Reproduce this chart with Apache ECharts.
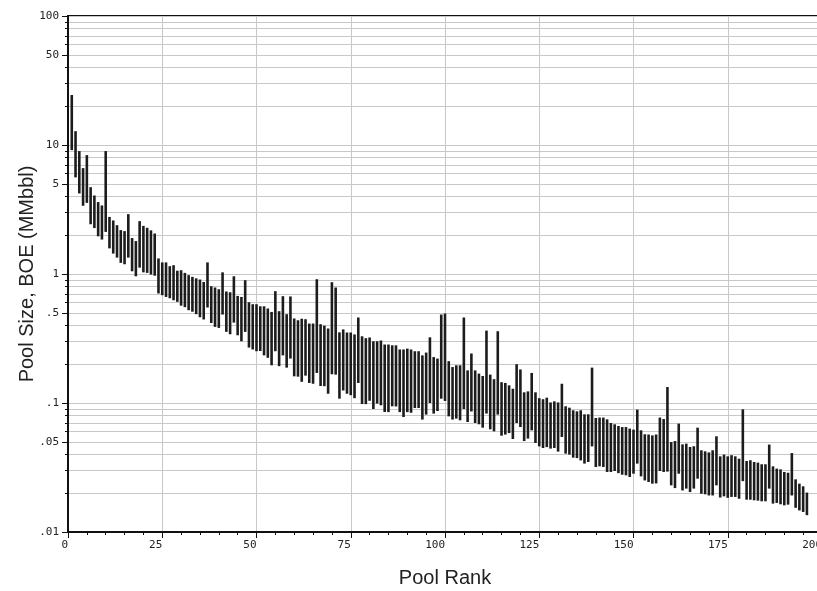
<!DOCTYPE html>
<html>
<head>
<meta charset="utf-8">
<script src="https://cdn.jsdelivr.net/npm/echarts@6/dist/echarts.min.js"></script>
<style>
html, body { margin: 0; padding: 0; background: #fff; }
#chart { width: 817px; height: 591px; }
</style>
</head>
<body>
<div id="chart"></div>
<script>
// pool size range (MMbbl) for each pool rank, rank = index + 1
const highs = [
	24.4, 12.8, 8.97, 6.62, 8.35, 4.71, 4.06, 3.61, 3.40, 8.97,
	2.77, 2.60, 2.39, 2.19, 2.15, 2.91, 1.90, 1.80, 2.57, 2.36,
	2.28, 2.18, 2.06, 1.32, 1.23, 1.23, 1.15, 1.17, 1.06, 1.07,
	1.02, 0.98, 0.95, 0.925, 0.906, 0.867, 1.23, 0.804, 0.786, 0.762,
	1.03, 0.732, 0.722, 0.96, 0.676, 0.664, 0.895, 0.604, 0.583, 0.583,
	0.562, 0.562, 0.540, 0.508, 0.736, 0.515, 0.673, 0.488, 0.67, 0.452,
	0.438, 0.45, 0.446, 0.413, 0.413, 0.911, 0.408, 0.398, 0.378, 0.864,
	0.786, 0.353, 0.372, 0.352, 0.352, 0.340, 0.460, 0.329, 0.318, 0.322,
	0.301, 0.301, 0.305, 0.284, 0.284, 0.280, 0.280, 0.260, 0.260, 0.264,
	0.260, 0.252, 0.252, 0.234, 0.246, 0.323, 0.227, 0.221, 0.485, 0.494,
	0.211, 0.190, 0.196, 0.196, 0.460, 0.179, 0.242, 0.179, 0.169, 0.162,
	0.364, 0.166, 0.153, 0.360, 0.145, 0.143, 0.137, 0.129, 0.200, 0.182,
	0.121, 0.123, 0.171, 0.121, 0.109, 0.107, 0.110, 0.101, 0.103, 0.101,
	0.141, 0.0943, 0.092, 0.0878, 0.0862, 0.0878, 0.0817, 0.0817, 0.188, 0.0765,
	0.0771, 0.0771, 0.0747, 0.070, 0.0684, 0.0663, 0.0651, 0.0651, 0.0633, 0.0622,
	0.0889, 0.0614, 0.0572, 0.057, 0.0561, 0.057, 0.0771, 0.0751, 0.133, 0.0498,
	0.0507, 0.0692, 0.0478, 0.0484, 0.0456, 0.0462, 0.0644, 0.043, 0.0422, 0.0414,
	0.043, 0.0552, 0.0386, 0.0398, 0.0386, 0.0394, 0.0386, 0.037, 0.0893, 0.0355,
	0.036, 0.0349, 0.0345, 0.0335, 0.0335, 0.0476, 0.0323, 0.031, 0.0306, 0.0292,
	0.0288, 0.0409, 0.0256, 0.0237, 0.0226, 0.0202
];
const lows = [
	9.13, 5.61, 4.21, 3.38, 3.56, 2.43, 2.27, 1.96, 1.85, 2.12,
	1.58, 1.44, 1.34, 1.22, 1.19, 1.34, 1.05, 0.96, 1.12, 1.03,
	1.02, 0.99, 0.97, 0.706, 0.685, 0.664, 0.649, 0.626, 0.608, 0.568,
	0.553, 0.524, 0.510, 0.488, 0.462, 0.444, 0.55, 0.417, 0.389, 0.382,
	0.485, 0.356, 0.341, 0.420, 0.335, 0.301, 0.356, 0.269, 0.260, 0.252,
	0.253, 0.234, 0.224, 0.196, 0.252, 0.193, 0.234, 0.188, 0.221, 0.161,
	0.160, 0.146, 0.163, 0.143, 0.141, 0.171, 0.1355, 0.135, 0.118, 0.167,
	0.166, 0.108, 0.125, 0.118, 0.115, 0.109, 0.143, 0.0982, 0.098, 0.104,
	0.0898, 0.099, 0.096, 0.0851, 0.085, 0.0943, 0.094, 0.085, 0.0779, 0.085,
	0.084, 0.0915, 0.0915, 0.0744, 0.0813, 0.100, 0.0828, 0.0867, 0.108, 0.1037,
	0.0788, 0.0744, 0.0757, 0.0734, 0.0898, 0.0712, 0.086, 0.070, 0.0684, 0.0644,
	0.0828, 0.0625, 0.0603, 0.0813, 0.0558, 0.0569, 0.0585, 0.0526, 0.070, 0.0651,
	0.0507, 0.053, 0.0614, 0.049, 0.0461, 0.0448, 0.0455, 0.0443, 0.0448, 0.042,
	0.0545, 0.0405, 0.0398, 0.0377, 0.0374, 0.0359, 0.0339, 0.0349, 0.0461, 0.0319,
	0.0323, 0.0319, 0.0292, 0.0292, 0.0297, 0.0286, 0.0278, 0.0275, 0.0267, 0.0283,
	0.0339, 0.027, 0.0251, 0.0244, 0.0237, 0.0238, 0.0297, 0.0292, 0.0294, 0.023,
	0.0219, 0.0283, 0.021, 0.0217, 0.0204, 0.0217, 0.0259, 0.0198, 0.0196, 0.0192,
	0.0192, 0.023, 0.0185, 0.0189, 0.0184, 0.0187, 0.0187, 0.0181, 0.0248, 0.0178,
	0.0178, 0.0176, 0.0175, 0.0173, 0.0173, 0.0217, 0.0166, 0.0168, 0.0164, 0.0161,
	0.0163, 0.0192, 0.0154, 0.0147, 0.0143, 0.0135
];

// y axis: labelled values and minor tick / grid values
const yLabelValues = [0.01, 0.05, 0.1, 0.5, 1, 5, 10, 50, 100];
const yTickValues = [
	0.01, 0.02, 0.03, 0.04, 0.05, 0.06, 0.07, 0.08, 0.09,
	0.1, 0.2, 0.3, 0.4, 0.5, 0.6, 0.7, 0.8, 0.9,
	1, 2, 3, 4, 5, 6, 7, 8, 9,
	10, 20, 30, 40, 50, 60, 70, 80, 90, 100
];

const data = lows.map( ( lo, i ) => [ i + 1, lo, highs[ i ] ] );

const labelFont = "DejaVu Sans Mono";
const gridColor = "#c8c8c8";
const inkColor = "#111";

const chart = echarts.init( document.getElementById( "chart" ) );

chart.setOption( {
	animation: false,
	grid: {
		left: 68,
		top: 16,
		right: -5,
		bottom: 59,
		outerBoundsMode: "none",
		containLabel: false,
		show: true,
		borderColor: inkColor,
		borderWidth: 2,
		backgroundColor: "transparent"
	},
	xAxis: {
		type: "value",
		min: 0,
		max: 200,
		interval: 25,
		name: "Pool Rank",
		nameLocation: "middle",
		nameGap: 36,
		nameMoveOverlap: false,
		nameTextStyle: { fontFamily: "Liberation Sans", fontSize: 20, color: "#222" },
		axisLine: { lineStyle: { color: inkColor, width: 2 } },
		axisTick: { length: 6, lineStyle: { color: inkColor } },
		minorTick: { show: true, splitNumber: 5, length: 3, lineStyle: { color: inkColor } },
		axisLabel: {
			align: "right",
			margin: 8,
			fontFamily: labelFont,
			fontSize: 11,
			color: "#222",
			showMaxLabel: true
		},
		splitLine: { show: true, lineStyle: { color: gridColor, width: 1 } }
	},
	yAxis: [
		{
			type: "log",
			logBase: 10,
			min: 0.01,
			max: 100,
			name: "Pool Size, BOE (MMbbl)",
			nameLocation: "middle",
			nameGap: 31,
			nameMoveOverlap: false,
			nameTextStyle: { fontFamily: "Liberation Sans", fontSize: 20, color: "#222" },
			axisLine: { show: true, lineStyle: { color: inkColor, width: 2 } },
			axisTick: { show: true, length: 3, customValues: yTickValues, lineStyle: { color: inkColor } },
			axisLabel: {
				customValues: yLabelValues,
				margin: 9,
				fontFamily: labelFont,
				fontSize: 11,
				color: "#222",
				formatter: v => v < 1 ? String( v ).replace( /^0/, "" ) : String( v )
			},
			splitLine: { show: true, lineStyle: { color: gridColor, width: 1 } }
		},
		{
			type: "log",
			logBase: 10,
			min: 0.01,
			max: 100,
			position: "left",
			axisLine: { show: false },
			axisTick: { show: true, length: 6, customValues: yLabelValues, lineStyle: { color: inkColor } },
			axisLabel: { show: false },
			splitLine: { show: false }
		}
	],
	series: [
		{
			type: "custom",
			xAxisIndex: 0,
			yAxisIndex: 0,
			encode: { x: 0, y: [ 1, 2 ] },
			data,
			renderItem( params, api ) {
				const top = api.coord( [ api.value( 0 ), api.value( 2 ) ] );
				const bottom = api.coord( [ api.value( 0 ), api.value( 1 ) ] );
				const w = 2.6;
				return {
					type: "rect",
					shape: { x: top[ 0 ] - w / 2, y: top[ 1 ], width: w, height: bottom[ 1 ] - top[ 1 ] },
					style: { fill: "#1c1c1c" }
				};
			}
		}
	]
} );
</script>
</body>
</html>
